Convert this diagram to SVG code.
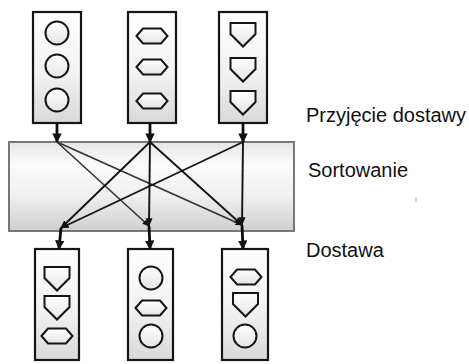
<svg xmlns="http://www.w3.org/2000/svg" width="469" height="364" viewBox="0 0 469 364">
  <defs>
    <linearGradient id="boxFill" x1="0" y1="0" x2="0" y2="1">
      <stop offset="0" stop-color="#ffffff"/>
      <stop offset="0.55" stop-color="#f2f2f2"/>
      <stop offset="1" stop-color="#d9d9d9"/>
    </linearGradient>
    <linearGradient id="bandFill" x1="0" y1="0" x2="0" y2="1">
      <stop offset="0" stop-color="#e6e6e6"/>
      <stop offset="0.25" stop-color="#fbfbfb"/>
      <stop offset="0.6" stop-color="#f0f0f0"/>
      <stop offset="1" stop-color="#cfcfcf"/>
    </linearGradient>
    <linearGradient id="shapeFill" x1="0" y1="0" x2="0" y2="1">
      <stop offset="0" stop-color="#ffffff"/>
      <stop offset="1" stop-color="#e4e4e4"/>
    </linearGradient>
    <marker id="arrow" viewBox="0 0 10 10" refX="9" refY="5" markerWidth="3.4" markerHeight="3.4" orient="auto" markerUnits="strokeWidth">
      <path d="M0,0 L10,5 L0,10 z" fill="#111"/>
    </marker>
    <marker id="tip" viewBox="0 0 10 10" refX="9" refY="5" markerWidth="4.5" markerHeight="4.5" orient="auto" markerUnits="strokeWidth">
      <path d="M0,1 L10,5 L0,9 z" fill="#111"/>
    </marker>
    <!-- reusable shapes, centred on the origin -->
    <circle id="circ" r="11.5"/>
    <polygon id="hex" points="-15.5,0 -9,-7.5 9,-7.5 15.5,0 9,7.5 -9,7.5"/>
    <polygon id="pent" points="-12.5,-12 12.5,-12 12.5,-1 0,11.5 -12.5,-1"/>
  </defs>
  <style>
    .box { fill: url(#boxFill); stroke: #151515; stroke-width: 2.2; }
    .band { fill: url(#bandFill); stroke: #777; stroke-width: 2; }
    .shape use { fill: url(#shapeFill); stroke: #151515; stroke-width: 2; }
    .feed { stroke: #0d0d0d; stroke-width: 2.8; fill: none; marker-end: url(#arrow); }
    .cross { stroke: #141414; stroke-width: 1.9; fill: none; marker-end: url(#tip); }
    .cross.light { stroke: #333; stroke-width: 1.6; }
    .label { font-family: "Liberation Sans", Arial, sans-serif; font-size: 20px; fill: #111; }
  </style>

  <!-- sorting band -->
  <g id="sortowanie">
    <rect class="band" x="9" y="142" width="285" height="89"/>
  </g>

  <!-- incoming containers -->
  <g id="in1">
    <rect class="box" x="33" y="12" width="48" height="111"/>
    <g class="shape">
      <use href="#circ" x="57" y="33"/>
      <use href="#circ" x="57" y="66"/>
      <use href="#circ" x="57" y="100"/>
    </g>
  </g>
  <g id="in2">
    <rect class="box" x="128" y="12" width="48" height="111"/>
    <g class="shape">
      <use href="#hex" x="152" y="36"/>
      <use href="#hex" x="152" y="67"/>
      <use href="#hex" x="152" y="101"/>
    </g>
  </g>
  <g id="in3">
    <rect class="box" x="219" y="12" width="48" height="111"/>
    <g class="shape">
      <use href="#pent" x="243" y="35"/>
      <use href="#pent" x="243" y="70"/>
      <use href="#pent" x="243" y="103"/>
    </g>
  </g>

  <!-- outgoing containers -->
  <g id="out1">
    <rect class="box" x="35" y="249" width="44" height="111"/>
    <g class="shape">
      <use href="#pent" x="57" y="279"/>
      <use href="#pent" x="57" y="308"/>
      <use href="#hex" x="57" y="336"/>
    </g>
  </g>
  <g id="out2">
    <rect class="box" x="128" y="249" width="45" height="111"/>
    <g class="shape">
      <use href="#circ" x="151" y="278"/>
      <use href="#hex" x="151" y="308"/>
      <use href="#circ" x="151" y="336"/>
    </g>
  </g>
  <g id="out3">
    <rect class="box" x="222" y="249" width="46" height="111"/>
    <g class="shape">
      <use href="#hex" x="246" y="277"/>
      <use href="#pent" x="245.5" y="305"/>
      <use href="#circ" x="245" y="336"/>
    </g>
  </g>

  <!-- connectors -->
  <g id="connectors">
    <line class="feed" x1="57" y1="123" x2="57" y2="142"/>
    <line class="feed" x1="150" y1="123" x2="150" y2="142"/>
    <line class="feed" x1="243" y1="123" x2="243" y2="142"/>

    <line class="cross light" x1="57" y1="142" x2="149" y2="226"/>
    <line class="cross light" x1="57" y1="142" x2="242" y2="225"/>
    <line class="cross" x1="150" y1="142" x2="61" y2="228"/>
    <line class="cross" x1="150" y1="142" x2="149" y2="226"/>
    <line class="cross" x1="150" y1="142" x2="242" y2="225"/>
    <line class="cross" x1="243" y1="142" x2="61" y2="228"/>
    <line class="cross" x1="243" y1="142" x2="242" y2="225"/>

    <line class="feed" x1="61" y1="228" x2="59" y2="249"/>
    <line class="feed" x1="149" y1="226" x2="150" y2="249"/>
    <line class="feed" x1="242" y1="225" x2="243" y2="249"/>
  </g>

  <!-- stage labels -->
  <g id="labels">
    <text class="label" x="306" y="122">Przyjęcie dostawy</text>
    <text class="label" x="308" y="177">Sortowanie</text>
    <text class="label" x="306" y="257">Dostawa</text>
    <line x1="416" y1="197" x2="416" y2="202" stroke="#b0b0b0" stroke-width="1"/>
  </g>
</svg>
